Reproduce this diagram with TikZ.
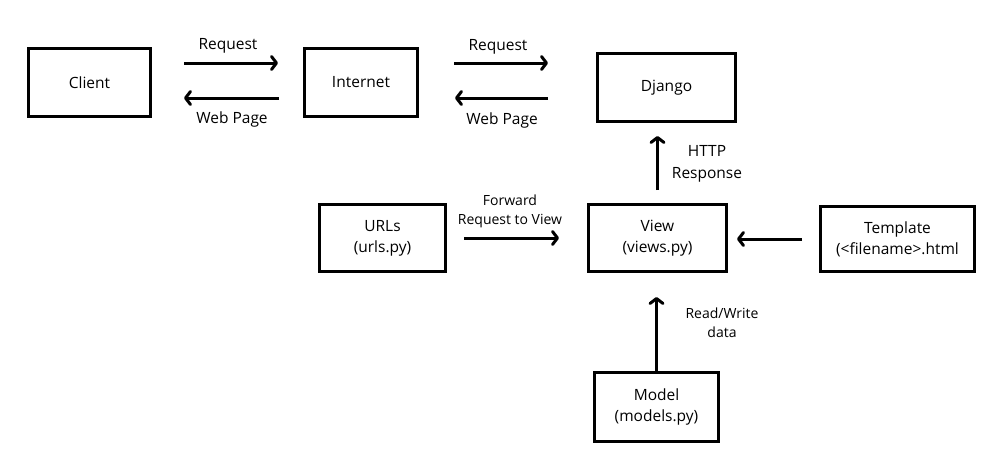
\documentclass[tikz,border=0pt]{standalone}
\usepackage{fontspec}
\setmainfont{Open Sans}
\usetikzlibrary{arrows.meta}
\tikzstyle{box} = [rectangle, draw = black, line width = 3pt, text centered, align = center, font = \fontsize{15.5}{21}\selectfont]
\tikzstyle{arr} = [line width = 3pt, -{Straight Barb[length = 5pt, width = 13pt, line cap = round, line join = round]}]
\tikzstyle{lbl} = [align = center, font = \fontsize{15.5}{22}\selectfont]
\tikzstyle{lblsmall} = [align = center, font = \fontsize{14}{19}\selectfont]

\begin{document}
\begin{tikzpicture}[x = 1pt, y = -1pt]
	\useasboundingbox (0,0) rectangle (1007,463);
	\node (client)[box, minimum width = 122pt, minimum height = 68pt] at (89.5,82.5){Client};
	\node (internet)[box, minimum width = 113pt, minimum height = 68pt] at (361,82.5){Internet};
	\node (django)[box, minimum width = 138pt, minimum height = 68pt] at (666.5,87.5){Django};
	\node (urls)[box, minimum width = 126pt, minimum height = 67pt] at (382.5,238){URLs\\(urls.py)};
	\node (view)[box, minimum width = 138pt, minimum height = 67pt] at (657.5,238){View\\(views.py)};
	\node (template)[box, minimum width = 154pt, minimum height = 65pt] at (897.5,239){Template\\(<filename>.html};
	\node (model)[box, minimum width = 124pt, minimum height = 69pt] at (656.5,407){Model\\(models.py)};

	\node (req1)[lbl] at (228,46){Request};
	\node (page1)[lbl] at (232,119){Web Page};
	\node (req2)[lbl] at (498,47){Request};
	\node (page2)[lbl] at (502,120){Web Page};
	\node (http)[lbl] at (707,164){HTTP\\Response};
	\node (fwd)[lblsmall] at (510,211){Forward\\Request to View};
	\node (rw)[lblsmall] at (722,323){Read/Write\\data};

	\draw [arr, shorten < = 32pt, shorten > = 25pt] ([yshift = 19.5pt]client.east) -- ([yshift = 19.5pt]client.east -| internet.west);
	\draw [arr, shorten < = 24pt, shorten > = 32pt] ([yshift = -15.5pt]client.east -| internet.west) -- ([yshift = -15.5pt]client.east);
	\draw [arr, shorten < = 35pt, shorten > = 48pt] ([yshift = 19.5pt]internet.east) -- ([yshift = 19.5pt]internet.east -| django.west);
	\draw [arr, shorten < = 48pt, shorten > = 36pt] ([yshift = -15.5pt]internet.east -| django.west) -- ([yshift = -15.5pt]internet.east);

	\draw [arr, shorten < = 13pt, shorten > = 13pt] (view.north) -- (view.north |- django.south);
	\draw [arr, shorten < = 17pt, shorten > = 28pt] (urls.east) -- (urls.east -| view.west);
	\draw [arr, shorten < = 17pt, shorten > = 9pt] (template.west) -- (template.west -| view.east);
	\draw [arr, shorten > = 24pt] (model.north) -- (model.north |- view.south);
\end{tikzpicture}
\end{document}
